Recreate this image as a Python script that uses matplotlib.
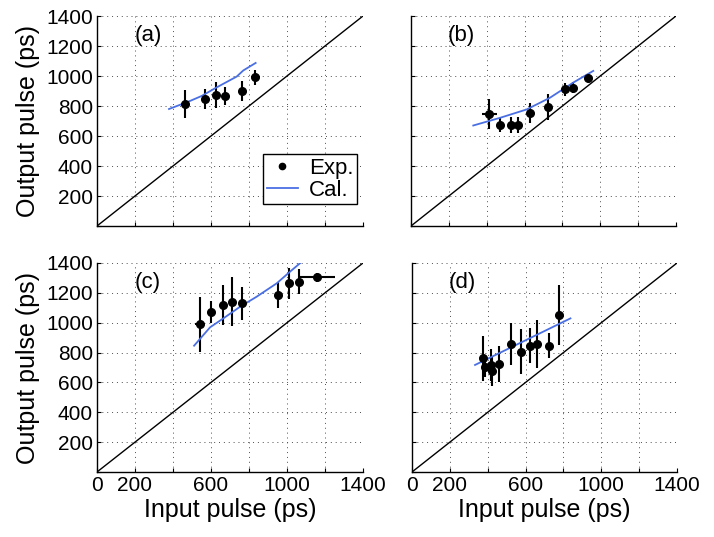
import numpy as np
import matplotlib.pyplot as plt
from matplotlib.lines import Line2D

plt.rcParams['font.family'] = ['Liberation Sans Narrow', 'Liberation Sans', 'DejaVu Sans']

# (a)
a_x = [463, 568, 626, 674, 765, 833]
a_y = [813, 847, 873, 867, 902, 991]
a_yerr = [95, 67, 87, 58, 67, 50]
a_xerr = [0, 15, 0, 0, 0, 23]
a_cal_x = [379, 481, 551, 621, 735, 770, 835]
a_cal_y = [780, 829, 867, 918, 996, 1037, 1087]

# (b)
b_x = [414, 470, 528, 567, 629, 725, 811, 854, 936]
b_y = [750, 674, 673, 673, 755, 795, 911, 922, 985]
b_yerr = [100, 48, 52, 55, 67, 86, 45, 37, 20]
b_xerr = [40, 15, 15, 15, 15, 15, 15, 15, 15]
b_cal_x = [329, 470, 611, 734, 857, 963]
b_cal_y = [670, 721, 777, 855, 956, 1034]

# (c)
c_x = [542, 598, 661, 709, 761, 951, 1011, 1063, 1156]
c_y = [991, 1070, 1118, 1141, 1130, 1185, 1264, 1275, 1304]
c_yerr = [184, 75, 136, 165, 112, 87, 104, 84, 32]
c_xerr = [24, 10, 10, 10, 10, 10, 10, 10, 98]
c_cal_x = [511, 595, 665, 753, 840, 946, 1016, 1068]
c_cal_y = [846, 969, 1029, 1107, 1174, 1264, 1342, 1398]

# (d)
d_x = [377, 387, 416, 423, 461, 523, 574, 623, 662, 724, 775]
d_y = [761, 705, 717, 676, 723, 857, 806, 846, 855, 846, 1052]
d_yerr = [151, 67, 106, 100, 119, 140, 151, 117, 160, 84, 201]
d_cal_x = [333, 837]
d_cal_y = [717, 1029]

panel_labels = ['(a)', '(b)', '(c)', '(d)']
ticks = np.arange(0, 1401, 200)
x_tick_labels = ['0', '200', '', '600', '', '1000', '', '1400']
y_tick_labels = ['', '200', '400', '600', '800', '1000', '1200', '1400']

cal_color = '#4a6fe3'

fig = plt.figure(figsize=(7.14, 5.37), dpi=100)
rects = [
    [97 / 714, 311 / 537, 266 / 714, 210 / 537],
    [411 / 714, 311 / 537, 265 / 714, 210 / 537],
    [97 / 714, 65 / 537, 266 / 714, 209 / 537],
    [412 / 714, 65 / 537, 265 / 714, 209 / 537],
]
data = [
    (a_x, a_y, a_xerr, a_yerr, a_cal_x, a_cal_y),
    (b_x, b_y, b_xerr, b_yerr, b_cal_x, b_cal_y),
    (c_x, c_y, c_xerr, c_yerr, c_cal_x, c_cal_y),
    (d_x, d_y, None, d_yerr, d_cal_x, d_cal_y),
]

for i, (rect, (x, y, xe, ye, cx, cy)) in enumerate(zip(rects, data)):
    ax = fig.add_axes(rect)
    ax.plot([0, 1400], [0, 1400], color='k', lw=1.0)
    ax.errorbar(x, y, yerr=ye, xerr=xe, fmt='o', color='k', ms=5.5,
                elinewidth=1.5, capsize=0)
    ax.plot(cx, cy, color=cal_color, lw=1.3)
    ax.set_xlim(0, 1400)
    ax.set_ylim(0, 1400)
    ax.set_xticks(ticks)
    ax.set_yticks(ticks)
    ax.grid(True, color='0.3', linestyle=(0, (1, 4)), lw=0.7)
    for s in ['top', 'right']:
        ax.spines[s].set_visible(False)
    for s in ['left', 'bottom']:
        ax.spines[s].set_linewidth(1.0)
    ax.tick_params(direction='in', length=3, labelsize=15, pad=3)
    if i >= 2:
        ax.set_xticklabels(x_tick_labels)
        ax.set_xlabel('Input pulse (ps)', fontsize=18, labelpad=2)
    else:
        ax.set_xticklabels([])
    if i % 2 == 0:
        ax.set_yticklabels(y_tick_labels)
        ax.set_ylabel('Output pulse (ps)', fontsize=18, labelpad=4)
    else:
        ax.set_yticklabels([])
    ax.text(0.14, 0.955, panel_labels[i], transform=ax.transAxes,
            fontsize=16, va='top', ha='left')
    if i == 0:
        handles = [Line2D([], [], marker='o', ls='none', color='k', ms=4.5),
                   Line2D([], [], color=cal_color, lw=1.3)]
        leg = ax.legend(handles, ['Exp.', 'Cal.'], loc='lower right',
                        bbox_to_anchor=(0.977, 0.105),
                        fontsize=16, fancybox=False, edgecolor='k',
                        framealpha=1, borderpad=0.15, handlelength=1.4,
                        handletextpad=0.5, labelspacing=0.05,
                        borderaxespad=0)
        leg.get_frame().set_linewidth(1.0)

fig.savefig('out.png', dpi=100)
